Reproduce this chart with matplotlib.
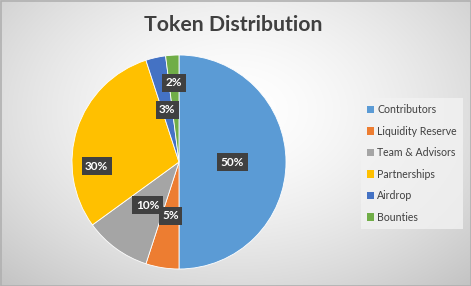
import numpy as np
import matplotlib
matplotlib.use('Agg')
import matplotlib.pyplot as plt
import matplotlib.patches as patches

plt.rcParams['font.family'] = ['Lato', 'DejaVu Sans']

# data
categories = ["Contributors", "Liquidity Reserve", "Team & Advisors",
              "Partnerships", "Airdrop", "Bounties"]
shares = [50, 5, 10, 30, 3, 2]
colors = ["#5B9BD5", "#ED7D31", "#A5A5A5", "#FFC000", "#4472C4", "#70AD47"]

# label placement (fraction of radius, angle nudge in degrees)
label_r = [0.5, 0.51, 0.5, 0.77, 0.5, 0.74]
label_da = [0, 0, 0, 21, 0, 0]

W, H = 471, 286
fig = plt.figure(figsize=(W / 100, H / 100), dpi=100)

# background: soft radial gradient
bg = fig.add_axes([0, 0, 1, 1])
yy, xx = np.mgrid[0:H, 0:W]
d = np.sqrt(((xx - 235) / 330.0) ** 2 + ((yy - 110) / 230.0) ** 2)
shade = np.clip(1.0 - 0.22 * d ** 1.6, 0, 1)
img = np.dstack([shade, shade, shade])
bg.imshow(img, extent=[0, W, H, 0], aspect='auto')
bg.set_xlim(0, W)
bg.set_ylim(H, 0)
bg.axis('off')
bg.add_patch(patches.Rectangle((0.5, 0.5), W - 1, H - 1, fill=False,
                               ec='#b0b0b0', lw=1.2))
bg.text(233, 25, "Token Distribution", fontsize=15.3, fontweight='bold',
        color='#404040', ha='center', va='center')

# pie
cx, cy, r = 179, 162, 107
ax = fig.add_axes([(cx - r) / W, (H - cy - r) / H, 2 * r / W, 2 * r / H])
ax.set_facecolor('none')
wedges, _ = ax.pie(shares, colors=colors, startangle=90, counterclock=False,
                   radius=1, wedgeprops=dict(linewidth=0.6, edgecolor='white'))
ax.set_xlim(-1, 1)
ax.set_ylim(-1, 1)
ax.set_aspect('equal')
ax.axis('off')

for w, v, fr, da in zip(wedges, shares, label_r, label_da):
    ang = np.deg2rad((w.theta1 + w.theta2) / 2 + da)
    ax.text(fr * np.cos(ang), fr * np.sin(ang), f"{v}%", fontsize=8.5,
            fontweight='bold', color='white', ha='center', va='center',
            bbox=dict(boxstyle='square,pad=0.3', fc='#404040', ec='none'))

# legend
handles = [patches.Patch(fc=c, ec='none') for c in colors]
leg = fig.legend(handles, categories, loc='upper left',
                 bbox_to_anchor=(356 / W, 1 - 93 / H), frameon=True,
                 fontsize=7.6, handlelength=0.7, handleheight=0.7,
                 handletextpad=0.25, labelspacing=1.0, borderpad=0.55,
                 labelcolor='#404040', fancybox=False)
leg.get_frame().set_facecolor('#f2f2f2')
leg.get_frame().set_edgecolor('none')

fig.savefig('out.png', dpi=100)
